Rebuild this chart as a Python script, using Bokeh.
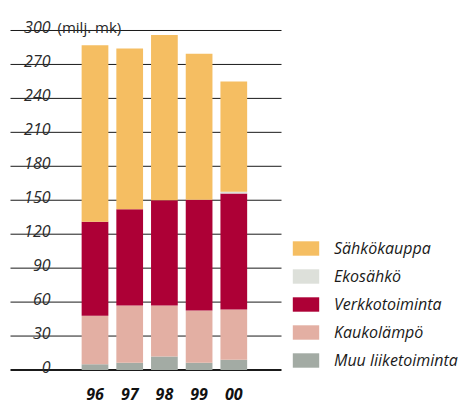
from bokeh.plotting import figure
from bokeh.models import ColumnDataSource, Range1d, Legend, LegendItem
from bokeh.core.properties import value
from bokeh.embed import file_html
from bokeh.resources import INLINE

# ---- data ----
years = ["96", "97", "98", "99", "00"]
muu = [5, 6.5, 12, 6.5, 9]
kauko = [43, 50.5, 45, 46, 44.5]
verkko = [83, 85, 93, 98, 102.5]
eko = [0, 0, 0, 0, 1.5]
sahko = [156, 142, 146, 129, 97.5]
series_keys = ["muu", "kauko", "verkko", "eko", "sahko"]
series_labels = ["Muu liiketoiminta", "Kaukolämpö", "Verkkotoiminta", "Ekosähkö", "Sähkökauppa"]
colors = ["#A3ABA4", "#E3AFA3", "#AD0036", "#DDE0DA", "#F5BE62"]
y_ticks = [0, 30, 60, 90, 120, 150, 180, 210, 240, 270, 300]
unit_label = "(milj. mk)"

# ---- layout ----
W, H = 462, 404
step = 34.7            # px per category
c0 = 94.5              # px of first category centre
ppu = 1.1317           # px per unit
zero_px = 369.5        # px from top of the zero line

xs = list(range(len(years)))
src = ColumnDataSource(dict(x=xs, years=years, muu=muu, kauko=kauko, verkko=verkko, eko=eko, sahko=sahko))

p = figure(width=W, height=H, output_backend="svg", toolbar_location=None,
           x_range=Range1d(-c0 / step, (W - c0) / step),
           y_range=Range1d(-(H - zero_px) / ppu, zero_px / ppu),
           min_border=0, outline_line_color=None)
p.axis.visible = False
p.grid.visible = False
p.background_fill_color = "white"
p.border_fill_color = "white"

def px_to_x(px):
    return (px - c0) / step

# gridlines
gx0, gx1 = px_to_x(10), px_to_x(281)
p.segment(x0=[gx0] * len(y_ticks), x1=[gx1] * len(y_ticks), y0=y_ticks, y1=y_ticks,
          line_color="#1a1a1a", line_width=[2.2 if t == 0 else 1 for t in y_ticks])

# stacked bars
rs = p.vbar_stack(series_keys, x="x", width=0.77, color=colors, line_color=None, source=src)

# y tick labels
p.text(x=[px_to_x(50)] * len(y_ticks), y=y_ticks, text=[str(t) for t in y_ticks],
       text_align="right", text_baseline="alphabetic", y_offset=-3,
       text_font=value("Open Sans"), text_font_style="italic", text_font_size="16px",
       text_color="#2a2a2a")
p.text(x=[px_to_x(57)], y=[y_ticks[-1]], text=[unit_label],
       text_align="left", text_baseline="alphabetic", y_offset=-3,
       text_font=value("Open Sans"), text_font_size="15px", text_color="#2a2a2a")

# x category labels
p.text(x="x", y=0, text="years", source=src, text_align="center", text_baseline="middle",
       y_offset=24, text_font=value("Open Sans"), text_font_style="bold italic",
       text_font_size="16px", text_color="#111111")

# legend
items = [LegendItem(label=lab, renderers=[r]) for lab, r in zip(series_labels, rs)][::-1]
legend = Legend(items=items, location=(289, 33),
                glyph_width=33, glyph_height=18, label_height=18, spacing=6,
                label_standoff=12, padding=0, margin=0, border_line_color=None,
                background_fill_alpha=0, label_text_font="Open Sans",
                label_text_font_style="italic", label_text_font_size="16px",
                label_text_color="#1a1a1a")
p.add_layout(legend)

open("out.html", "w").write(file_html(p, INLINE))
